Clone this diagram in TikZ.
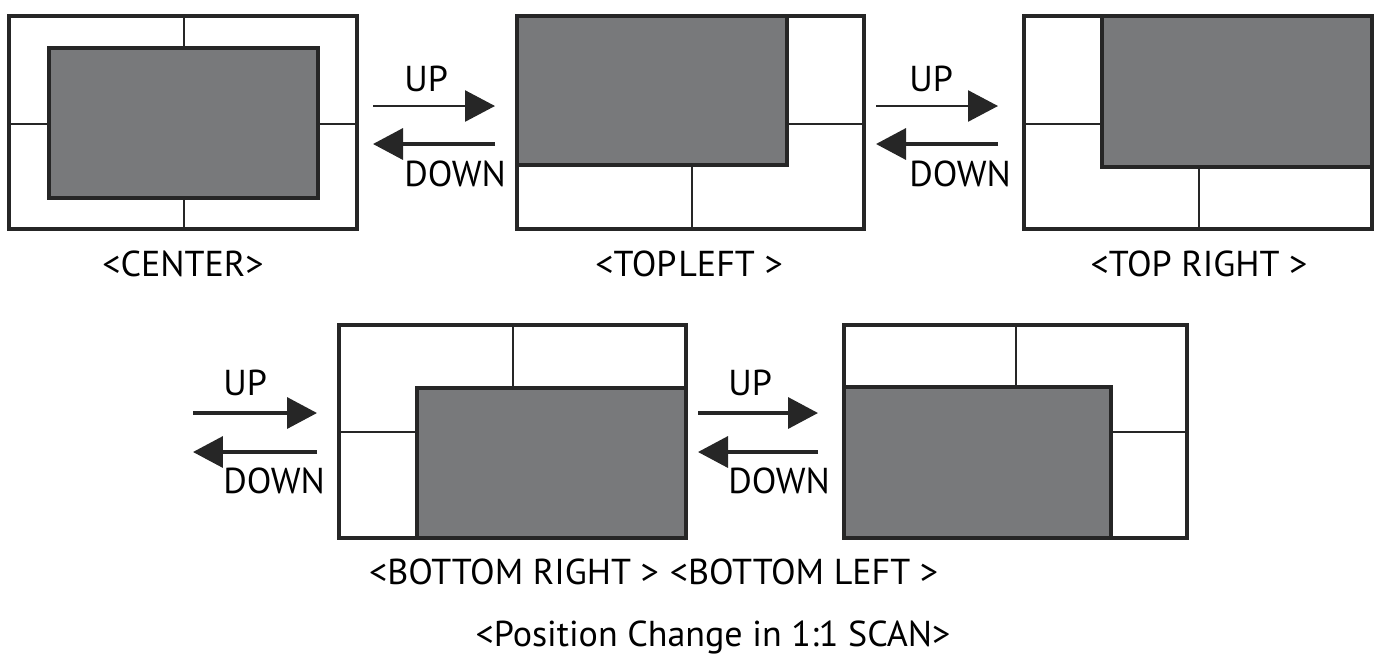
\documentclass[tikz,border=0pt]{standalone}
\usepackage{fontspec}
\setmainfont{PT Sans}
\usepackage{tikz}
\usetikzlibrary{positioning, arrows.meta, calc}
\definecolor{screengray}{RGB}{120,121,123}
\tikzset{frame/.style={draw=black!85, line width=2pt},
	screen/.style={draw=black!85, fill=screengray, line width=2.1pt},
	divider/.style={draw=black!85, line width=1.5pt},
	move/.style={draw=black!85, line width=1.5pt, -{Triangle[length=0.6cm,width=0.62cm]}},
	back/.style={move, line width=2pt},
	word/.style={anchor=base west, inner sep=0pt, font=\fontsize{20.5}{24}\selectfont},
	caption/.style={anchor=base, inner sep=0pt, font=\fontsize{20.5}{24}\selectfont},}

\begin{document}
\begin{tikzpicture}[x=0.02cm, y=-0.02cm]
				\useasboundingbox (0,0) rectangle (1381,664);
				% Center
				\draw[frame] (9,16) rectangle (357,229);
				\draw[divider] (184,16) -- (184,48) (184,198) -- (184,229);
				\draw[divider] (9,124) -- (49,124) (318,124) -- (357,124);
				\draw[screen] (49,48) rectangle (318,198);
				\node[caption] (center) at (183,276) {<CENTER>};
				% Top left
				\draw[frame] (517,16) rectangle (864,229);
				\draw[divider] (692,165) -- (692,229) (787,124) -- (864,124);
				\draw[screen] (517,16) rectangle (787,165);
				\node[caption] (topleft) at (689,276) {<TOP\hspace{0.05em}LEFT >};
				% Top right
				\draw[frame] (1024,16) rectangle (1372,229);
				\draw[divider] (1024,124) -- (1102,124) (1199,167) -- (1199,229);
				\draw[screen] (1102,16) rectangle (1372,167);
				\node[caption] (topright) at (1199,276) {<TOP RIGHT >};
				% Bottom right
				\draw[frame] (339,325) rectangle (686,538);
				\draw[divider] (513,325) -- (513,388) (339,432) -- (417,432);
				\draw[screen] (417,388) rectangle (686,538);
				\node[caption] (bottomright) at (514,584) {<BOTTOM RIGHT >};
				% Bottom left
				\draw[frame] (844,325) rectangle (1187,538);
				\draw[divider] (1016,325) -- (1016,387) (1111,432) -- (1187,432);
				\draw[screen] (844,387) rectangle (1111,538);
				\node[caption] (bottomleft) at (804,584) {<BOTTOM LEFT >};
				% Arrow ends
				\coordinate (a1) at (373,106); \coordinate (b1) at (495,106);
				\coordinate (c1) at (373,144); \coordinate (d1) at (495,144);
				\coordinate (a2) at (876,106); \coordinate (b2) at (998,106);
				\coordinate (c2) at (876,144); \coordinate (d2) at (998,144);
				\coordinate (a3) at (193,413); \coordinate (b3) at (317,413);
				\coordinate (c3) at (193,452); \coordinate (d3) at (317,452);
				\coordinate (a4) at (698,413); \coordinate (b4) at (818,413);
				\coordinate (c4) at (698,452); \coordinate (d4) at (818,452);
				% Moves
				\draw[move] (a1) -- (b1);
				\draw[back] (d1) -- (c1);
				\draw[move] (a2) -- (b2);
				\draw[back] (d2) -- (c2);
				\draw[back] (a3) -- (b3);
				\draw[back] (d3) -- (c3);
				\draw[back] (a4) -- (b4);
				\draw[back] (d4) -- (c4);
				% Words
				\node[word] (up1) at (404,91) {UP};
				\node[word] (down1) at (404,186) {DOWN};
				\node[word] (up2) at (909,91) {UP};
				\node[word] (down2) at (909,186) {DOWN};
				\node[word] (up3) at (223,395) {UP};
				\node[word] (down3) at (223,493) {DOWN};
				\node[word] (up4) at (728,395) {UP};
				\node[word] (down4) at (728,493) {DOWN};
				\node[caption] (title) at (713,646) {<Position Change in 1:1 SCAN>};
			\end{tikzpicture}
\end{document}
